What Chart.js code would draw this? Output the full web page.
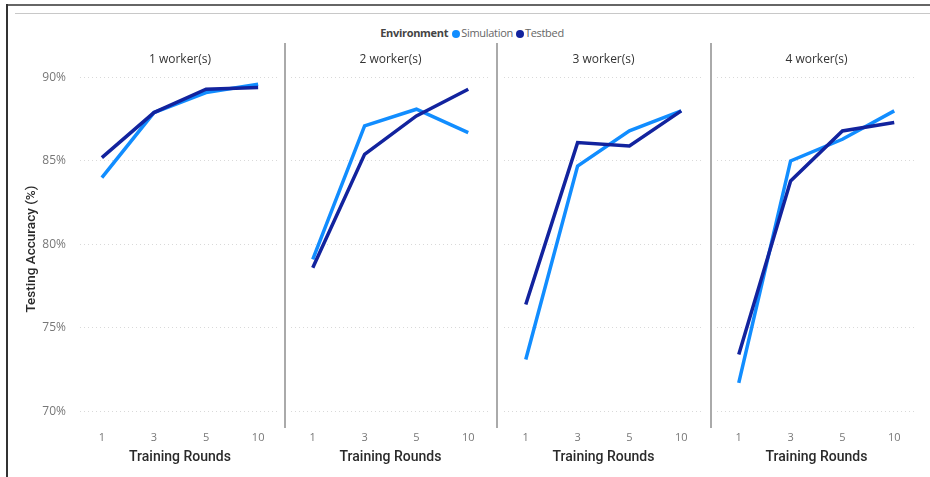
<!DOCTYPE html>
<html>
<head>
<meta charset="utf-8">
<script src="https://cdn.jsdelivr.net/npm/chart.js@4"></script>
<style>
  html, body { margin: 0; padding: 0; background: #fff; }
  body { width: 930px; height: 477px; position: relative; overflow: hidden; font-family: "Open Sans", "Noto Sans", sans-serif; }
  .frame-top { position: absolute; left: 6px; top: 4px; width: 924px; height: 2px; background: #666; }
  .frame-left { position: absolute; left: 6px; top: 4px; width: 2px; height: 473px; background: #333; }
  .rule { position: absolute; left: 15px; top: 13px; width: 915px; height: 1px; background: #c8c8c8; }
  .divider { position: absolute; top: 43px; width: 2px; height: 385px; background: #aaa; }
  .legend { position: absolute; top: 25px; left: 0; width: 944px; text-align: center; font-size: 11px; color: #666; white-space: nowrap; letter-spacing: -0.3px; }
  .legend b { color: #444; font-weight: 700; margin-right: 4px; }
  .legend .dot { display: inline-block; width: 8px; height: 8px; border-radius: 50%; vertical-align: -0.5px; margin-right: 1px; }
  .legend .item { margin-right: 3px; }
  canvas { position: absolute; }
</style>
</head>
<body>
<div class="frame-top"></div>
<div class="frame-left"></div>
<div class="rule"></div>
<div class="legend" id="legend"></div>
<div class="divider" style="left:284px"></div>
<div class="divider" style="left:496px"></div>
<div class="divider" style="left:710px"></div>

<canvas id="p1" width="260" height="432" style="left:20px;top:43px"></canvas>
<canvas id="p2" width="199" height="432" style="left:291px;top:43px"></canvas>
<canvas id="p3" width="199" height="432" style="left:504px;top:43px"></canvas>
<canvas id="p4" width="199" height="432" style="left:717px;top:43px"></canvas>

<script>
// Training rounds on the x axis
const rounds = ['1', '3', '5', '10'];
// One panel per number of workers
const panelTitles = ['1 worker(s)', '2 worker(s)', '3 worker(s)', '4 worker(s)'];
const yTicks = [70, 75, 80, 85, 90];

// Testing accuracy (%) per panel
const simulation1 = [84.0, 87.9, 89.1, 89.6];
const testbed1    = [85.2, 87.9, 89.3, 89.4];
const simulation2 = [79.1, 87.1, 88.1, 86.7];
const testbed2    = [78.6, 85.4, 87.7, 89.3];
const simulation3 = [73.1, 84.7, 86.8, 88.0];
const testbed3    = [76.4, 86.1, 85.9, 88.0];
const simulation4 = [71.7, 85.0, 86.3, 88.0];
const testbed4    = [73.4, 83.8, 86.8, 87.3];

const simulationSeries = [simulation1, simulation2, simulation3, simulation4];
const testbedSeries = [testbed1, testbed2, testbed3, testbed4];

const SIM_COLOR = '#118DFF';
const TEST_COLOR = '#12239E';

document.getElementById('legend').innerHTML =
  '<b>Environment</b>' +
  '<span class="dot" style="background:' + SIM_COLOR + '"></span><span class="item">Simulation</span>' +
  '<span class="dot" style="background:' + TEST_COLOR + '"></span><span>Testbed</span>';

const toPoints = arr => arr.map((v, i) => ({ x: i, y: v }));

// Draws the panel heading centred over the plot area
const panelTitlePlugin = {
  id: 'panelTitle',
  afterDraw(chart, args, opts) {
    const { ctx, chartArea } = chart;
    ctx.save();
    ctx.font = '12px "Open Sans", sans-serif';
    ctx.fillStyle = '#333';
    ctx.textAlign = 'center';
    ctx.textBaseline = 'middle';
    ctx.fillText(opts.text, (chartArea.left + chartArea.right) / 2, 17);
    ctx.restore();
  }
};

function makePanel(canvasId, idx, withYAxis) {
  new Chart(document.getElementById(canvasId), {
    type: 'line',
    data: {
      datasets: [
        { label: 'Simulation', data: toPoints(simulationSeries[idx]), borderColor: SIM_COLOR, backgroundColor: SIM_COLOR, borderWidth: 3.5, pointRadius: 0, tension: 0, order: 1 },
        { label: 'Testbed', data: toPoints(testbedSeries[idx]), borderColor: TEST_COLOR, backgroundColor: TEST_COLOR, borderWidth: 3.5, pointRadius: 0, tension: 0, order: 0 }
      ]
    },
    options: {
      responsive: false,
      animation: false,
      layout: { padding: { top: 27, left: 0, right: 0, bottom: 0 } },
      plugins: {
        legend: { display: false },
        tooltip: { enabled: false },
        panelTitle: { text: panelTitles[idx] }
      },
      scales: {
        x: {
          type: 'linear',
          min: -0.42,
          max: 3.42,
          afterBuildTicks: s => { s.ticks = rounds.map((r, i) => ({ value: i })); },
          afterFit: s => { s.height = 47; },
          ticks: {
            callback: v => rounds[v],
            color: '#777',
            font: { family: '"Open Sans", sans-serif', size: 11 },
            padding: 3,
            maxRotation: 0
          },
          grid: { display: false, drawTicks: false },
          border: { display: false },
          title: {
            display: true,
            text: 'Training Rounds',
            color: '#2a2a2a',
            font: { family: 'Roboto, sans-serif', size: 14, weight: '500' },
            padding: { top: 0, bottom: 9 }
          }
        },
        y: {
          min: 69.0,
          max: 90.45,
          afterBuildTicks: s => { s.ticks = yTicks.map(v => ({ value: v })); },
          afterFit: s => { s.width = withYAxis ? 60 : 0; },
          ticks: {
            display: withYAxis,
            callback: v => v + '%',
            color: '#777',
            font: { family: '"Open Sans", sans-serif', size: 12 },
            padding: 14
          },
          grid: {
            color: '#d9d9d9',
            lineWidth: 1,
            drawTicks: false
          },
          border: { display: false, dash: [1, 3] },
          title: {
            display: withYAxis,
            text: 'Testing Accuracy (%)',
            color: '#2a2a2a',
            font: { family: 'Roboto, sans-serif', size: 13.5, weight: '500' },
            padding: { top: 4, bottom: 4 }
          }
        }
      }
    },
    plugins: [panelTitlePlugin]
  });
}

makePanel('p1', 0, true);
makePanel('p2', 1, false);
makePanel('p3', 2, false);
makePanel('p4', 3, false);
</script>
</body>
</html>
